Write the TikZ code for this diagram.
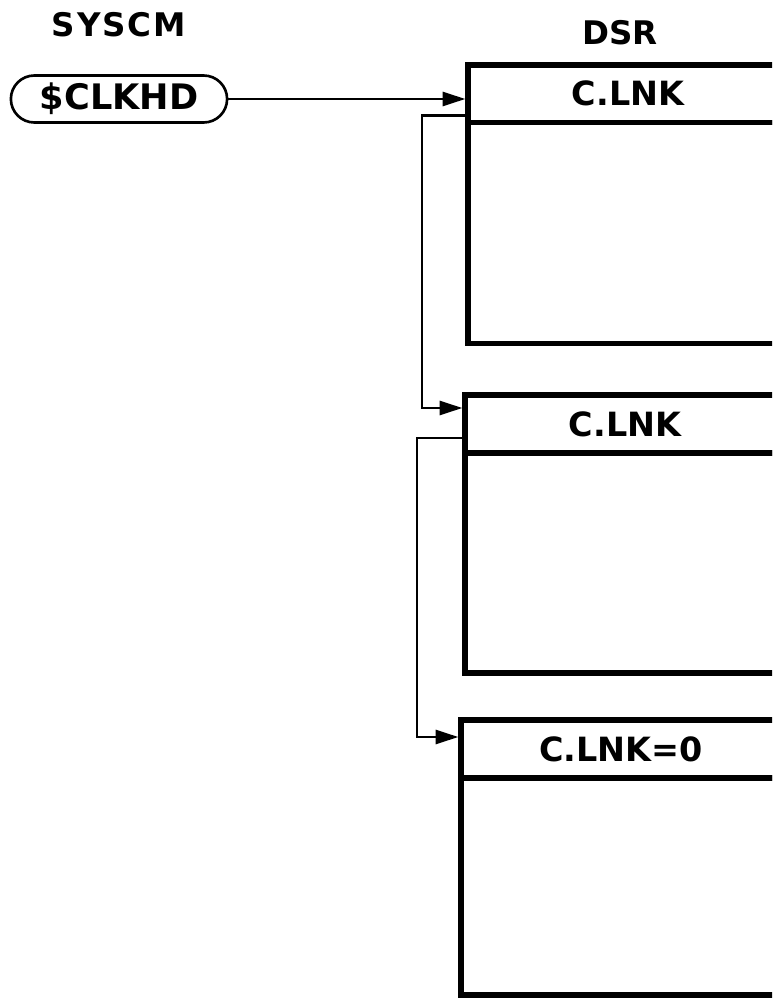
\documentclass[tikz,border=0pt]{standalone}
\usepackage{fontspec}
\setsansfont{DejaVu Sans}
\newfontfamily\spacedfont[LetterSpace=6]{DejaVu Sans}
\usetikzlibrary{arrows.meta,shapes.misc,positioning}
\tikzset{
  hdr/.style={draw,line width=3pt,outer sep=0pt,anchor=north west,minimum width=6.4cm,
    minimum height=1.15cm,inner sep=0pt,font=\sffamily\bfseries\fontsize{19}{22}\selectfont},
  bdy/.style={draw,line width=3pt,outer sep=0pt,anchor=north west,minimum width=6.4cm,inner sep=0pt},
  link/.style={line width=1.6pt,shorten >=1.5pt,-{Triangle[length=13pt,width=8pt]}},
  ttl/.style={font=\bfseries\fontsize{18.5}{21}\selectfont}
}

\begin{document}
\begin{tikzpicture}[x=0.02cm,y=-0.02cm]
\path[use as bounding box,clip](0,0)rectangle(772,1000);
%titles
\node[ttl] (syscm) at (119,25){\spacedfont SYSCM};
\node[ttl] (dsr) at (620,33){\sffamily DSR};
%list head
\node[draw,rounded rectangle,line width=1.5pt,minimum width=4.56cm,minimum height=0.94cm,
  font=\sffamily\bfseries\fontsize{20}{23}\selectfont] (head) at (119,99){\$CLKHD};
%queue elements
\node[hdr] (h1) at (468,65){C.LNK};
\node[bdy,minimum height=4.42cm] (b1) at (h1.south west){};
\node[hdr,minimum height=1.16cm] (h2) at (465,395){C.LNK};
\node[bdy,minimum height=4.4cm] (b2) at (h2.south west){};
\node[hdr,minimum height=1.16cm] (h3) at (461,720){C.LNK=0};
\node[bdy,minimum height=4.34cm] (b3) at (h3.south west){};
%links
\draw[link](head.east)--(head.east-|h1.west);
\draw[link]([yshift=0.14cm]h1.south west)--++(-46,0)|-([yshift=-0.26cm]h2.north west);
\draw[link]([yshift=0.3cm]h2.south west)--++(-48,0)|-([yshift=-0.34cm]h3.north west);
\end{tikzpicture}
\end{document}
